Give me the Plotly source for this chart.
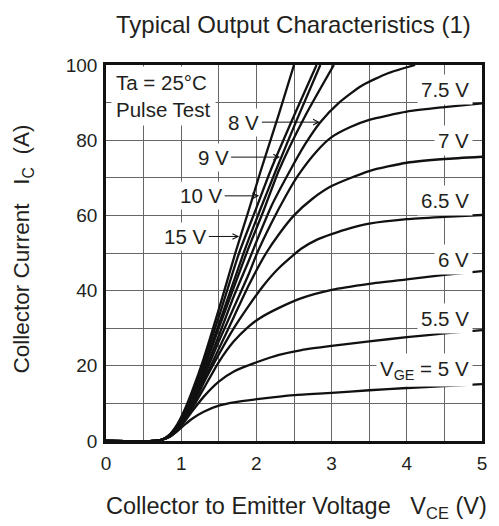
import plotly.graph_objects as go

# ---------------- data ----------------
x_ticks = [0, 1, 2, 3, 4, 5]
x_tick_labels = ["0", "1", "2", "3", "4", "5"]
y_ticks = [0, 20, 40, 60, 80, 100]
y_tick_labels = ["0", "20", "40", "60", "80", "100"]

vce_15 = [0, 0.65, 0.75, 0.85, 0.95, 1.05, 1.15, 1.3, 1.5, 1.72, 1.9, 2.06, 2.3, 2.5]
ic_15 = [0, 0, 0.4, 1.8, 4.5, 8.5, 13.5, 22, 35, 50, 61.5, 72, 87, 100]

vce_10 = [0, 0.65, 0.75, 0.85, 0.95, 1.05, 1.15, 1.3, 1.5, 1.77, 2.0, 2.19, 2.5, 2.8]
ic_10 = [0, 0, 0.4, 1.7, 4.3, 8, 12.8, 21, 33, 50, 62, 72, 86.5, 100]

vce_9 = [0, 0.65, 0.75, 0.85, 0.95, 1.05, 1.15, 1.3, 1.5, 1.83, 2.05, 2.26, 2.55, 2.85]
ic_9 = [0, 0, 0.4, 1.6, 4.1, 7.6, 12, 20, 31, 50, 61.5, 72, 86, 100]

vce_x = [0, 0.65, 0.75, 0.85, 0.95, 1.05, 1.15, 1.3, 1.5, 1.87, 2.1, 2.3, 2.65, 3.03]
ic_x = [0, 0, 0.4, 1.5, 3.9, 7.2, 11.3, 19, 30, 50, 61.5, 72, 86.5, 100]

vce_8 = [0, 0.65, 0.75, 0.85, 0.95, 1.05, 1.15, 1.3, 1.5, 1.7, 1.9, 2.0, 2.2, 2.45, 2.65, 2.85, 3.1, 3.4, 3.75, 4.11]
ic_8 = [0, 0, 0.4, 1.4, 3.7, 6.8, 10.7, 18, 28, 38.5, 48, 53, 62.5, 72, 79, 84.8, 90, 94.5, 97.8, 100]

vce_75 = [0, 0.65, 0.75, 0.85, 0.95, 1.05, 1.15, 1.3, 1.5, 1.7, 1.9, 2.01, 2.2, 2.4, 2.55, 2.8, 3.0, 3.25, 3.5, 4.0, 4.5, 5.0]
ic_75 = [0, 0, 0.4, 1.3, 3.5, 6.5, 10.3, 17, 26.5, 35.5, 44.5, 50, 58, 65.5, 70.5, 77, 80.8, 83.5, 85.4, 87.6, 88.8, 89.8]

vce_7 = [0, 0.65, 0.75, 0.85, 0.95, 1.05, 1.15, 1.3, 1.5, 1.7, 1.9, 2.13, 2.3, 2.5, 2.75, 3.0, 3.5, 4.0, 4.5, 5.0]
ic_7 = [0, 0, 0.4, 1.3, 3.4, 6.2, 9.8, 16, 24.5, 33, 41.5, 50, 55, 60, 64.5, 67.8, 71.8, 74, 75, 75.6]

vce_65 = [0, 0.65, 0.75, 0.85, 0.95, 1.05, 1.15, 1.3, 1.5, 1.7, 1.9, 2.1, 2.3, 2.6, 2.8, 3.0, 3.25, 3.5, 4.0, 4.5, 5.0]
ic_65 = [0, 0, 0.4, 1.3, 3.3, 6, 9.3, 15.5, 23, 30, 36, 41.5, 46, 51.2, 53.5, 55, 56.6, 57.8, 59, 59.6, 60.1]

vce_6 = [0, 0.65, 0.75, 0.85, 0.95, 1.05, 1.15, 1.3, 1.5, 1.7, 1.9, 2.04, 2.3, 2.6, 3.0, 3.5, 4.0, 4.5, 5.0]
ic_6 = [0, 0, 0.4, 1.25, 3.1, 5.7, 8.8, 14, 21, 26.5, 30.5, 32.6, 35.4, 38, 40.2, 41.8, 43, 44.2, 45.2]

vce_55 = [0, 0.65, 0.75, 0.85, 0.95, 1.05, 1.15, 1.3, 1.5, 1.7, 2.04, 2.3, 2.6, 3.0, 3.5, 4.0, 4.5, 5.0]
ic_55 = [0, 0, 0.4, 1.2, 3.0, 5.3, 8, 11.8, 15.8, 18.5, 21.2, 22.9, 24.2, 25.3, 26.5, 27.6, 28.6, 29.5]

vce_5 = [0, 0.65, 0.75, 0.85, 0.95, 1.05, 1.15, 1.3, 1.5, 1.7, 2.04, 2.5, 3.0, 3.5, 4.0, 4.5, 5.0]
ic_5 = [0, 0, 0.3, 1.1, 2.6, 4.4, 6.0, 7.8, 9.4, 10.3, 11.2, 12.2, 12.8, 13.5, 14.1, 14.6, 15.1]

curves = [
    ("15 V", vce_15, ic_15), ("10 V", vce_10, ic_10), ("9 V", vce_9, ic_9),
    ("unlabelled", vce_x, ic_x), ("8 V", vce_8, ic_8), ("7.5 V", vce_75, ic_75),
    ("7 V", vce_7, ic_7), ("6.5 V", vce_65, ic_65), ("6 V", vce_6, ic_6),
    ("5.5 V", vce_55, ic_55), ("5 V", vce_5, ic_5),
]

# right-hand curve labels: (text, x, y)
right_labels = [
    ("7.5 V", 4.88, 93.5), ("7 V", 4.88, 80.0), ("6.5 V", 4.88, 64.0),
    ("6 V", 4.88, 48.3), ("5.5 V", 4.88, 32.7), ("V<sub>GE</sub> = 5 V", 4.88, 18.9),
]
# arrow labels: (text, tip x, tip y, text offset px)
arrow_labels = [
    ("8 V", 2.844, 84.8, -76), ("9 V", 2.315, 75.5, -67),
    ("10 V", 2.037, 65.2, -58), ("15 V", 1.772, 54.4, -54),
]

FONT = "Liberation Sans, Arial, sans-serif"
TXT = "#231f20"
LBL = 20.5

# page body has an 8 px margin: plot area sits at x 106..484, y 65..441 of the page
W, H = 491, 518
L, R, T, B = 98, 15, 57, 85
PW, PH = W - L - R, H - T - B


def px_x(px):
    return (px - 8 - L) / PW


def px_y(py):
    return (H - B - (py - 8)) / PH


fig = go.Figure()
for name, xs, ys in curves:
    fig.add_trace(go.Scatter(x=xs, y=ys, mode="lines", name=name,
                             line=dict(color="#111111", width=2.3, shape="spline", smoothing=0.6),
                             hoverinfo="skip", showlegend=False))

ann = []
for t, x, y in right_labels:
    ann.append(dict(x=x, y=y, xref="x", yref="y", text=t, showarrow=False,
                    xanchor="right", yanchor="middle", bgcolor="white", borderpad=3,
                    font=dict(size=LBL, color=TXT, family=FONT)))
for t, x, y, ax in arrow_labels:
    ann.append(dict(x=x, y=y, xref="x", yref="y", text=t, showarrow=True,
                    ax=ax, ay=0, arrowhead=5, arrowsize=1.1, arrowwidth=1, arrowcolor="#111111",
                    standoff=0, bgcolor="white", borderpad=2,
                    font=dict(size=LBL, color=TXT, family=FONT)))
ann.append(dict(x=0.06, y=91.8, xref="x", yref="y", text="Ta = 25°C<br>Pulse Test",
                showarrow=False, xanchor="left", yanchor="middle", align="left",
                bgcolor="white", borderpad=4, font=dict(size=LBL, color=TXT, family=FONT)))
# title and axis titles
ann.append(dict(x=px_x(294), y=px_y(24), xref="paper", yref="paper",
                text="Typical Output Characteristics (1)", showarrow=False,
                xanchor="center", yanchor="middle", font=dict(size=24, color=TXT, family=FONT)))
ann.append(dict(x=px_x(491), y=px_y(508), xref="paper", yref="paper",
                text="Collector to Emitter Voltage   V<sub>CE</sub> (V)", showarrow=False,
                xanchor="right", yanchor="middle", font=dict(size=23.5, color=TXT, family=FONT)))
ann.append(dict(x=px_x(23), y=px_y(249), xref="paper", yref="paper",
                text="Collector Current   I<sub>C</sub>  (A)", showarrow=False, textangle=-90,
                xanchor="center", yanchor="middle", font=dict(size=22.5, color=TXT, family=FONT)))

axis_common = dict(showline=True, linecolor="#111111", linewidth=2.6, mirror=True,
                   showgrid=True, gridcolor="#666666", gridwidth=1.3, zeroline=False,
                   ticks="", tickfont=dict(size=19, color=TXT, family=FONT))

fig.update_layout(
    width=W, height=H,
    margin=dict(l=L, r=R, t=T, b=B),
    paper_bgcolor="white", plot_bgcolor="white",
    showlegend=False,
    xaxis=dict(range=[0, 5], tickvals=x_ticks, ticktext=x_tick_labels,
               minor=dict(dtick=0.5, showgrid=True, gridcolor="#666666", gridwidth=1.3),
               ticklabelstandoff=3, **axis_common),
    yaxis=dict(range=[0, 100], tickvals=y_ticks, ticktext=y_tick_labels,
               minor=dict(dtick=10, showgrid=True, gridcolor="#666666", gridwidth=1.3),
               ticklabelstandoff=2, **axis_common),
    annotations=ann,
)

fig.write_html("out.html")
